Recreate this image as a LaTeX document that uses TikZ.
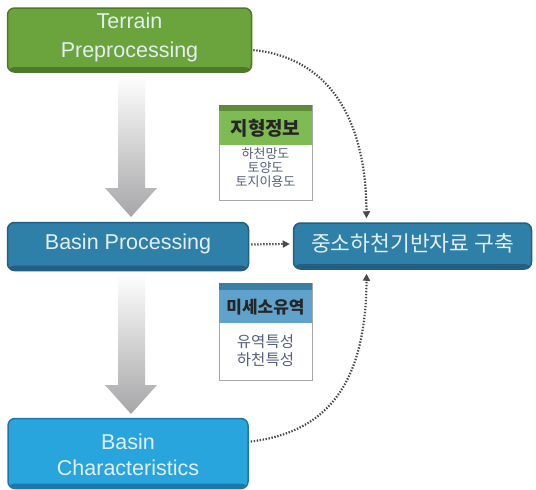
\documentclass[tikz,border=0pt]{standalone}
\usepackage{fontspec}
\setmainfont{Liberation Sans}
\newfontfamily\kr{Noto Sans CJK KR}
\usetikzlibrary{arrows.meta,calc}
\definecolor{gmain}{HTML}{6BA33C}
\definecolor{gdark}{HTML}{4C7A2A}
\definecolor{tmain}{HTML}{2F80A8}
\definecolor{tdark}{HTML}{235F80}
\definecolor{bmain}{HTML}{28A5DD}
\definecolor{bdark}{HTML}{1C78A8}
\definecolor{btext}{HTML}{E2EEF0}
\definecolor{dotc}{HTML}{4A4A4A}
\definecolor{hgreen}{HTML}{7EBB52}
\definecolor{hgreend}{HTML}{5C8C38}
\definecolor{hblue}{HTML}{5FA2CC}
\definecolor{hblued}{HTML}{3A7EA6}
\definecolor{bodytxt}{HTML}{56607A}
\definecolor{arrowgray}{HTML}{A6A6A8}
\begin{document}
\begin{tikzpicture}[x=1pt,y=-1pt,
  bigbox/.style 2 args={draw=#2, line width=1.5pt, fill=#1, rounded corners=7pt,
    inner sep=0pt, text=btext, align=center,
    path picture={\fill[#2] ([yshift=5pt]path picture bounding box.south west) rectangle (path picture bounding box.south east);}},
  bigtext/.style={text=btext, align=center, inner sep=0pt},
  infobox/.style={draw=gray!70, line width=0.6pt, fill=white, inner sep=0pt},
  hdr/.style={text=black!85, inner sep=0pt},
  bodytext/.style={text=bodytxt, align=center, inner sep=0pt},
  dotline/.style={draw=dotc, line width=2.2pt, dash pattern=on 1.4pt off 1.6pt,
    -{Triangle[length=7pt,width=7pt]}},
  grayarrow/.style={top color=white, bottom color=arrowgray, draw=none}
]
\useasboundingbox (0,0) rectangle (536,490);
\fill[white] (0,0) rectangle (536,490);

% gray arrows
\path[grayarrow] (118,75) -- (145,75) -- (145,188) -- (157,188) -- (131,217) -- (105,188) -- (118,188) -- cycle;
\path[grayarrow] (118,273) -- (145,273) -- (145,385) -- (157,385) -- (131,414) -- (105,385) -- (118,385) -- cycle;

% main boxes
\node[bigbox={gmain}{gdark}, minimum width=244pt, minimum height=64pt] (terrain) at (129.5,40) {};
\node[bigtext, font=\fontsize{21.5}{29}\selectfont] (terraint) at (129.5,37) {Terrain\\Preprocessing};

\node[bigbox={tmain}{tdark}, minimum width=241pt, minimum height=48pt] (basinp) at (128,246.5) {};
\node[bigtext, font=\fontsize{21.5}{25}\selectfont] (basinpt) at (128,244) {Basin Processing};

\node[bigbox={tmain}{tdark}, minimum width=238pt, minimum height=46pt] (goal) at (412.5,246) {};
\node[bigtext, font=\kr\fontsize{21.5}{24}\selectfont] (goalt) at (412.5,243) {중소하천기반자료 구축};

\node[bigbox={bmain}{bdark}, minimum width=240pt, minimum height=70pt] (basinc) at (128,453.5) {};
\node[bigtext, font=\fontsize{21.5}{26}\selectfont] (basinct) at (128,455) {Basin\\Characteristics};

% info box 1
\node[infobox, minimum width=93pt, minimum height=95pt] (info1) at (265.5,152.5) {};
\fill[hgreen] ($(info1.north west)+(0.3,0.3)$) rectangle ($(info1.north east)+(-0.3,40)$);
\fill[hgreend] ($(info1.north west)+(0.3,0.3)$) rectangle ($(info1.north east)+(-0.3,6)$);
\node[hdr, font=\kr\fontsize{19}{21}\selectfont\bfseries] (info1h) at (265.5,128) {지형정보};
\node[bodytext, font=\kr\fontsize{13}{14}\selectfont] (info1b) at (265.5,168) {하천망도\\토양도\\토지이용도};

% info box 2
\node[infobox, minimum width=93pt, minimum height=97pt] (info2) at (265.5,331.5) {};
\fill[hblue] ($(info2.north west)+(0.3,0.3)$) rectangle ($(info2.north east)+(-0.3,40)$);
\fill[hblued] ($(info2.north west)+(0.3,0.3)$) rectangle ($(info2.north east)+(-0.3,7)$);
\node[hdr, font=\kr\fontsize{17}{19}\selectfont\bfseries] (info2h) at (265.5,307) {미세소유역};
\node[bodytext, font=\kr\fontsize{15.5}{18}\selectfont] (info2b) at (265.5,351) {유역특성\\하천특성};

% dotted connectors
\draw[dotline] ($(terrain.east)+(1,10)$) .. controls (330,58) and (366,120) .. ($(goal.north)+(-46,-4)$);
\draw[dotline] ($(basinp.east)+(2,-2)$) -- ($(goal.west)+(-3,-2)$);
\draw[dotline] ($(basinc.east)+(2,-12)$) .. controls (330,432) and (366,380) .. ($(goal.south)+(-46,4)$);
\end{tikzpicture}
\end{document}
